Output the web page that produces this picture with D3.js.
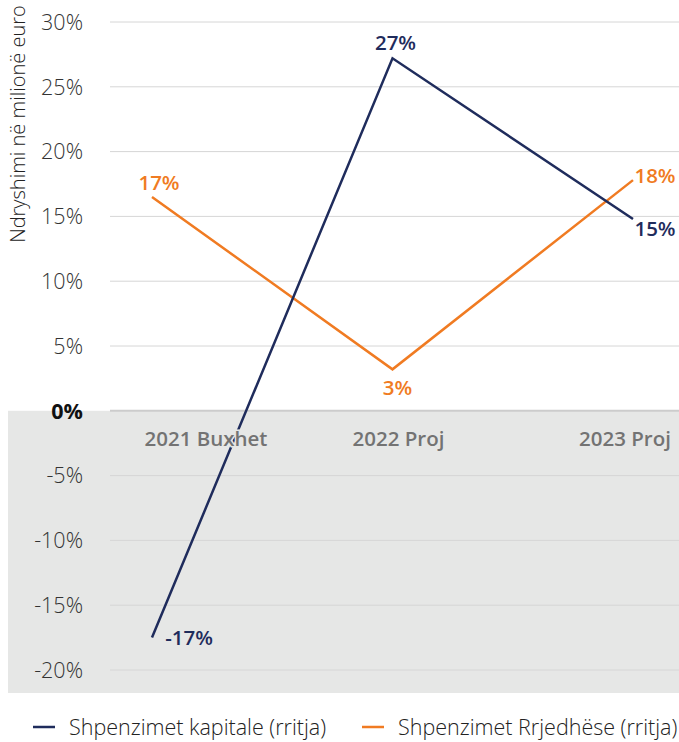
<!DOCTYPE html>
<html>
<head>
<meta charset="utf-8">
<script src="https://cdn.jsdelivr.net/npm/d3@7"></script>
<style>
  body { margin: 0; background: #fff; }
  svg text { font-family: 'Open Sans', 'Noto Sans', sans-serif; }
</style>
</head>
<body>
<div id="chart"></div>
<script>
const categories = ['2021 Buxhet', '2022 Proj', '2023 Proj']
const capital = [-17.5, 27.2, 14.8]
const current = [16.5, 3.2, 17.8]
const capitalLabels = ['-17%', '27%', '15%']
const currentLabels = ['17%', '3%', '18%']
const yTicks = [-20, -15, -10, -5, 0, 5, 10, 15, 20, 25, 30]
const seriesNames = ['Shpenzimet kapitale (rritja)', 'Shpenzimet Rrjedhëse (rritja)']

const width = 679
const height = 742
const navy = '#1f2c5c'
const orange = '#f07b22'

const svg = d3.select('#chart')
  .append('svg')
  .attr('width', width)
  .attr('height', height)

const x = d3.scalePoint().domain(categories).range([152, 633])
const y = d3.scaleLinear().domain([-20, 30]).range([670, 22])

// grey area below zero
svg.append('rect')
  .attr('x', 8)
  .attr('y', y(0))
  .attr('width', width - 8)
  .attr('height', 693 - y(0))
  .attr('fill', '#e6e7e6')

// gridlines
svg.selectAll('.grid')
  .data(yTicks.filter(d => d !== 0))
  .enter()
  .append('line')
  .attr('class', 'grid')
  .attr('x1', 110)
  .attr('x2', width)
  .attr('y1', d => y(d))
  .attr('y2', d => y(d))
  .attr('stroke', '#d6d6d6')
  .attr('stroke-width', 1)

svg.append('line')
  .attr('x1', 110)
  .attr('x2', width)
  .attr('y1', y(0))
  .attr('y2', y(0))
  .attr('stroke', '#cccccc')
  .attr('stroke-width', 2)

// y tick labels
svg.selectAll('.ytick')
  .data(yTicks)
  .enter()
  .append('text')
  .attr('class', 'ytick')
  .attr('x', 83)
  .attr('y', d => y(d))
  .attr('dy', '0.36em')
  .attr('text-anchor', 'end')
  .attr('font-size', 21.5)
  .attr('font-weight', d => d === 0 ? 700 : 300)
  .attr('fill', d => d === 0 ? '#111' : '#333')
  .text(d => d + '%')

// y axis title
svg.append('text')
  .attr('transform', 'translate(25,124) rotate(-90)')
  .attr('text-anchor', 'middle')
  .attr('font-size', 20)
  .attr('font-weight', 300)
  .attr('fill', '#222')
  .text('Ndryshimi në milionë euro')

const line = d3.line()
  .x((d, i) => x(categories[i]))
  .y(d => y(d))

svg.append('path')
  .datum(current)
  .attr('d', line)
  .attr('fill', 'none')
  .attr('stroke', orange)
  .attr('stroke-width', 2.5)

svg.append('path')
  .datum(capital)
  .attr('d', line)
  .attr('fill', 'none')
  .attr('stroke', navy)
  .attr('stroke-width', 2.5)

// category labels, drawn over the lines with a halo like the original
const catDx = [54, 6, -8]
svg.selectAll('.cat')
  .data(categories)
  .enter()
  .append('text')
  .attr('class', 'cat')
  .attr('x', (d, i) => x(d) + catDx[i])
  .attr('y', y(0) + 35)
  .attr('text-anchor', 'middle')
  .attr('font-size', 20.5)
  .attr('font-weight', 600)
  .attr('fill', '#737373')
  .attr('stroke', '#e6e7e6')
  .attr('stroke-width', 3)
  .attr('paint-order', 'stroke')
  .text(d => d)

// data labels
const capOff = [[37, 0], [3, -16], [22, 10]]
const curOff = [[7, -14], [5, 18], [22, -4]]

svg.selectAll('.caplabel')
  .data(capital)
  .enter()
  .append('text')
  .attr('x', (d, i) => x(categories[i]) + capOff[i][0])
  .attr('y', (d, i) => y(d) + capOff[i][1])
  .attr('dy', '0.36em')
  .attr('text-anchor', 'middle')
  .attr('font-size', 20.5)
  .attr('font-weight', 600)
  .attr('fill', navy)
  .text((d, i) => capitalLabels[i])

svg.selectAll('.curlabel')
  .data(current)
  .enter()
  .append('text')
  .attr('x', (d, i) => x(categories[i]) + curOff[i][0])
  .attr('y', (d, i) => y(d) + curOff[i][1])
  .attr('dy', '0.36em')
  .attr('text-anchor', 'middle')
  .attr('font-size', 20.5)
  .attr('font-weight', 600)
  .attr('fill', orange)
  .text((d, i) => currentLabels[i])

// legend
const legendX = [33, 362]
const legend = svg.selectAll('.legend')
  .data(seriesNames)
  .enter()
  .append('g')
  .attr('transform', (d, i) => 'translate(' + legendX[i] + ',727)')

legend.append('line')
  .attr('x1', 0)
  .attr('x2', 22)
  .attr('stroke', (d, i) => i === 0 ? navy : orange)
  .attr('stroke-width', 2.5)

legend.append('text')
  .attr('x', 36)
  .attr('dy', '0.36em')
  .attr('font-size', 21.5)
  .attr('font-weight', 300)
  .attr('fill', '#222')
  .text(d => d)
</script>
</body>
</html>
